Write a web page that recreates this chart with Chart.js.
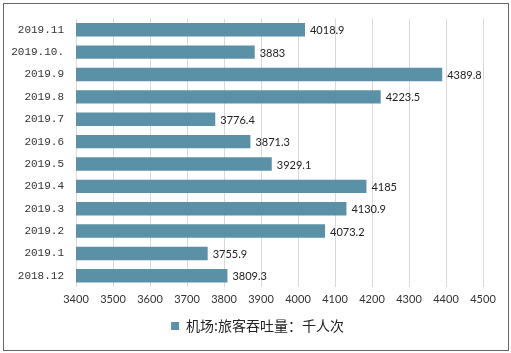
<!DOCTYPE html>
<html>
<head>
<meta charset="utf-8">
<style>
  html, body { margin: 0; padding: 0; background: #fff; }
  #wrap { position: relative; width: 511px; height: 353px; }
  #frame { position: absolute; left: 3px; top: 3px; width: 504px; height: 346px; border: 1px solid #666; pointer-events: none; }
  canvas { position: absolute; left: 0; top: 0; }
</style>
</head>
<body>
<div id="wrap">
  <canvas id="chart" width="511" height="353"></canvas>
  <div id="frame"></div>
</div>
<script src="https://cdn.jsdelivr.net/npm/chart.js"></script>
<script>
    const months = ['2019.11', '2019.10.', '2019.9', '2019.8', '2019.7', '2019.6', '2019.5', '2019.4', '2019.3', '2019.2', '2019.1', '2018.12'];
    const passengers = [4018.9, 3883, 4389.8, 4223.5, 3776.4, 3871.3, 3929.1, 4185, 4130.9, 4073.2, 3755.9, 3809.3];
    const seriesName = '机场:旅客吞吐量：千人次';
    const xMin = 3400, xMax = 4500, xStep = 100;

    // value labels at bar ends
    const barLabels = {
        id: 'barLabels',
        afterDatasetsDraw(chart) {
            const ctx = chart.ctx;
            const meta = chart.getDatasetMeta(0);
            ctx.save();
            ctx.font = '11px Lato, "Liberation Sans", sans-serif';
            ctx.fillStyle = '#222';
            ctx.textAlign = 'left';
            ctx.textBaseline = 'middle';
            meta.data.forEach(function(bar, i) {
                ctx.fillText(String(passengers[i]), bar.x + 5, bar.y + 1);
            });
            ctx.restore();
        }
    };

    // nudge the legend so it is centred on the whole page, not the padded area
    const legendShift = {
        id: 'legendShift',
        afterLayout(chart) {
            chart.legend.left += 16;
            chart.legend.right += 16;
        }
    };

    const chart = new Chart(document.getElementById('chart').getContext('2d'), {
        type: 'bar',
        data: {
            labels: months,
            datasets: [{
                label: seriesName,
                data: passengers,
                backgroundColor: '#5b91a6',
                borderWidth: 0,
                barPercentage: 0.6,
                categoryPercentage: 1
            }]
        },
        options: {
            indexAxis: 'y',
            responsive: false,
            animation: false,
            layout: { padding: { left: 0, right: 28, top: 18, bottom: 10 } },
            scales: {
                x: {
                    min: xMin,
                    max: xMax,
                    afterFit(scale) { scale.height = 22; },
                    ticks: {
                        stepSize: xStep,
                        padding: 6,
                        color: '#333',
                        font: { family: 'Lato, "Liberation Sans", sans-serif', size: 11 },
                        callback: function(v) { return String(v); }
                    },
                    grid: { color: '#d9d9d9', drawTicks: false },
                    border: { display: false }
                },
                y: {
                    afterFit(scale) { scale.width = 76; },
                    ticks: {
                        padding: 12,
                        color: '#333',
                        font: { family: '"Liberation Mono", "DejaVu Sans Mono", monospace', size: 11 }
                    },
                    grid: { display: false, drawTicks: false },
                    border: { display: false }
                }
            },
            plugins: {
                legend: {
                    position: 'bottom',
                    labels: {
                        boxWidth: 8,
                        boxHeight: 8,
                        padding: 10,
                        color: '#222',
                        font: { family: '"Noto Sans CJK SC", sans-serif', size: 14 }
                    }
                },
                tooltip: { enabled: false }
            }
        },
        plugins: [barLabels, legendShift]
    });
</script>
</body>
</html>
